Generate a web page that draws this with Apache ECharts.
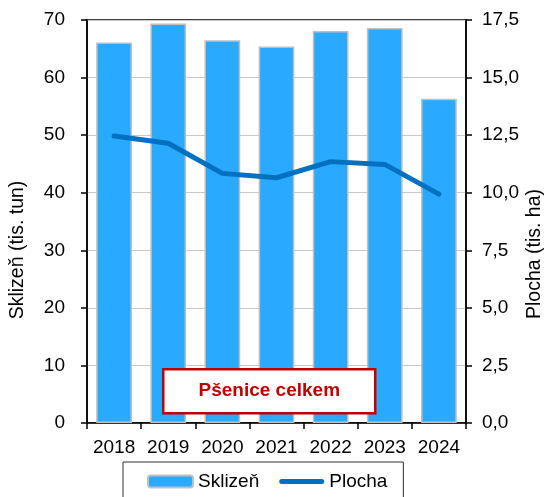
<!DOCTYPE html>
<html>
<head>
<meta charset="utf-8">
<script src="https://cdn.jsdelivr.net/npm/echarts@6/dist/echarts.min.js"></script>
<style>
  html, body { margin: 0; padding: 0; background: #fff; }
  #chart { width: 546px; height: 497px; }
</style>
</head>
<body>
<div id="chart"></div>
<script>
const years = ["2018", "2019", "2020", "2021", "2022", "2023", "2024"];
const sklizen = [66.1, 69.4, 66.5, 65.4, 68.1, 68.6, 56.3];
const plocha = [12.46, 12.15, 10.84, 10.65, 11.35, 11.23, 9.94];

const font = "Liberation Sans";
const fmt = (v) => v.toFixed(1).replace(".", ",");
const lineIcon = "path://M2.5,0 L42.5,0 A2.5,2.5 0 0 1 42.5,5 L2.5,5 A2.5,2.5 0 0 1 2.5,0 Z";

const chart = echarts.init(document.getElementById("chart"));

chart.setOption({
  animation: false,
  backgroundColor: "#fff",
  textStyle: { fontFamily: font },
  grid: { left: 87, right: 80, top: 20, bottom: 74, show: true, borderColor: "#000", borderWidth: 1.5 },
  legend: {
    top: 462,
    left: 123,
    padding: [10, 16, 10, 24],
    borderColor: "#333",
    borderWidth: 1,
    itemWidth: 45,
    itemHeight: 12,
    itemGap: 20,
    symbolKeepAspect: true,
    textStyle: { fontSize: 19, color: "#000", fontFamily: font },
    data: [
      { name: "Sklizeň", itemStyle: { color: "#29a9ff", borderColor: "#bfbfbf", borderWidth: 2 } },
      { name: "Plocha", icon: lineIcon, itemStyle: { color: "#0070c0", borderWidth: 0 } },
    ],
  },
  xAxis: {
    type: "category",
    data: years,
    axisLine: { lineStyle: { color: "#000", width: 1.5 } },
    axisTick: { show: true, length: 6, alignWithLabel: false, lineStyle: { color: "#000", width: 1.5 } },
    axisLabel: { fontSize: 19, color: "#000", margin: 15, interval: 0, fontFamily: font },
  },
  yAxis: [
    {
      type: "value",
      min: 0,
      max: 70,
      interval: 10,
      axisLine: { show: true, lineStyle: { color: "#000", width: 1.5 } },
      axisTick: { show: true, length: 6, lineStyle: { color: "#000", width: 1.5 } },
      axisLabel: { fontSize: 19, color: "#000", margin: 22, fontFamily: font },
      splitLine: { lineStyle: { color: "#c8c8c8", width: 1.2 } },
    },
    {
      type: "value",
      min: 0,
      max: 17.5,
      interval: 2.5,
      position: "right",
      axisLine: { show: true, lineStyle: { color: "#000", width: 1.5 } },
      axisTick: { show: true, length: 6, lineStyle: { color: "#000", width: 1.5 } },
      axisLabel: { fontSize: 19, color: "#000", margin: 16, fontFamily: font, formatter: fmt },
      splitLine: { show: false },
    },
  ],
  series: [
    {
      name: "Sklizeň",
      type: "bar",
      data: sklizen,
      barWidth: "66%",
      itemStyle: { color: "#29a9ff", borderColor: "#bfbfbf", borderWidth: 1.5 },
    },
    {
      name: "Plocha",
      type: "line",
      yAxisIndex: 1,
      data: plocha,
      showSymbol: false,
      symbol: "none",
      lineStyle: { color: "#0070c0", width: 5, cap: "round", join: "round" },
      itemStyle: { color: "#0070c0" },
      z: 5,
    },
  ],
  graphic: [
    {
      type: "group",
      left: 162,
      top: 368,
      z: 100,
      children: [
        {
          type: "rect",
          z: 100,
          shape: { x: 0, y: 0, width: 212, height: 44 },
          style: { fill: "#fff", stroke: "#c00000", lineWidth: 2.5 },
        },
        {
          type: "text",
          z: 101,
          x: 106,
          y: 22,
          style: {
            text: "Pšenice celkem",
            fill: "#c00000",
            font: "bold 19px 'Liberation Sans'",
            align: "center",
            verticalAlign: "middle",
          },
        },
      ],
    },
    {
      type: "text",
      x: 18,
      y: 250,
      rotation: Math.PI / 2,
      style: {
        text: "Sklizeň (tis. tun)",
        fill: "#000",
        font: "19.5px 'Liberation Sans'",
        align: "center",
        verticalAlign: "middle",
      },
    },
    {
      type: "text",
      x: 535,
      y: 254,
      rotation: Math.PI / 2,
      style: {
        text: "Plocha (tis. ha)",
        fill: "#000",
        font: "19.5px 'Liberation Sans'",
        align: "center",
        verticalAlign: "middle",
      },
    },
  ],
});
</script>
</body>
</html>
